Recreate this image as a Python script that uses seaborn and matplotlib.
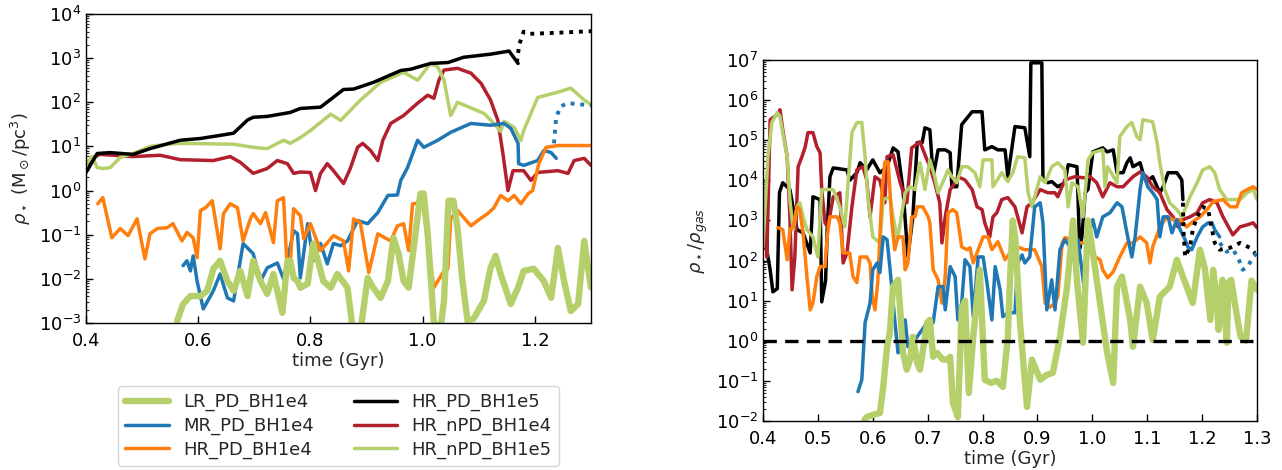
import numpy as np
import pandas as pd
import matplotlib
matplotlib.use("Agg")
import matplotlib.pyplot as plt
from matplotlib.ticker import LogLocator, NullFormatter
import seaborn as sns

# ---------------------------------------------------------------------------
# Data: (time [Gyr], log10 value) pairs for every run.
# Left panel: stellar density around the BH, log10(rho_* / Msun pc^-3)
# Right panel: log10(rho_* / rho_gas)
# ---------------------------------------------------------------------------
rho_lr_pd_1e4 = [(0.5625, -2.95), (0.573, -2.57), (0.586, -2.39), (0.604, -2.39), (0.616, -2.27),
                 (0.627, -1.77), (0.639, -1.59), (0.652, -2.05), (0.663, -2.27), (0.675, -1.82),
                 (0.688, -2.39), (0.698, -1.59), (0.711, -2.05), (0.723, -2.34), (0.734, -1.89),
                 (0.750, -2.77), (0.759, -1.59), (0.764, -1.59), (0.770, -1.98), (0.777, -2.05),
                 (0.782, -2.20), (0.795, -2.11), (0.805, -1.20), (0.823, -2.05), (0.836, -2.20),
                 (0.848, -1.89), (0.866, -2.20), (0.877, -3.30), (0.889, -3.20), (0.902, -1.98),
                 (0.912, -2.20), (0.925, -2.43), (0.938, -2.05), (0.948, -1.07), (0.957, -1.43),
                 (0.966, -2.05), (0.975, -2.20), (0.984, -1.30), (0.996, -0.07), (1.002, -0.07),
                 (1.009, -0.98), (1.020, -3.00), (1.032, -3.10), (1.038, -2.50), (1.046, -0.23),
                 (1.055, -0.23), (1.062, -0.84), (1.071, -2.05), (1.080, -2.95), (1.091, -2.90),
                 (1.109, -2.50), (1.121, -1.75), (1.130, -1.48), (1.139, -1.89), (1.157, -2.57),
                 (1.170, -2.20), (1.180, -1.82), (1.198, -1.77), (1.216, -2.05), (1.229, -2.43),
                 (1.241, -1.30), (1.252, -2.05), (1.264, -2.73), (1.277, -2.57), (1.288, -1.14),
                 (1.300, -2.20)]

rho_mr_pd_1e4 = [(0.573, -1.70), (0.580, -1.59), (0.586, -1.82), (0.591, -1.48), (0.598, -2.05),
                 (0.609, -2.68), (0.627, -2.27), (0.639, -1.89), (0.652, -2.43), (0.663, -2.50),
                 (0.680, -1.20), (0.698, -1.43), (0.711, -2.05), (0.723, -1.75), (0.741, -1.64),
                 (0.752, -2.00), (0.770, -0.91), (0.777, -0.98), (0.782, -1.98), (0.795, -0.75),
                 (0.805, -1.59), (0.818, -1.20), (0.830, -1.66), (0.841, -1.20), (0.854, -1.25),
                 (0.866, -1.14), (0.884, -0.68), (0.902, -0.75), (0.920, -0.50), (0.938, -0.11),
                 (0.955, -0.10), (0.961, 0.23), (0.973, 0.52), (0.991, 1.14), (1.002, 0.98),
                 (1.027, 1.14), (1.050, 1.32), (1.086, 1.52), (1.121, 1.48), (1.145, 1.52),
                 (1.157, 1.41), (1.170, 1.07), (1.171, 0.61), (1.180, 0.57), (1.205, 0.68),
                 (1.216, 0.91), (1.229, 0.86), (1.238, 0.73)]
rho_mr_pd_1e4_late = [(1.234, 1.07), (1.238, 1.66), (1.246, 1.91), (1.259, 1.98), (1.300, 1.93)]

rho_hr_pd_1e4 = [(0.421, -0.30), (0.430, -0.16), (0.446, -1.07), (0.461, -0.86), (0.475, -1.02),
                 (0.491, -0.64), (0.505, -1.55), (0.514, -0.98), (0.527, -0.86), (0.545, -0.84),
                 (0.555, -0.75), (0.571, -1.14), (0.580, -0.95), (0.591, -1.07), (0.598, -1.52),
                 (0.604, -0.45), (0.613, -0.39), (0.625, -0.23), (0.639, -1.32), (0.645, -0.52),
                 (0.657, -0.30), (0.670, -0.39), (0.680, -1.14), (0.693, -0.64), (0.698, -0.52),
                 (0.711, -0.75), (0.720, -0.50), (0.734, -1.18), (0.741, -0.23), (0.752, -0.16),
                 (0.759, -1.89), (0.764, -1.66), (0.770, -0.41), (0.782, -0.57), (0.788, -1.09),
                 (0.800, -0.75), (0.818, -1.36), (0.841, -1.02), (0.859, -1.14), (0.868, -1.82),
                 (0.877, -0.64), (0.889, -0.73), (0.904, -1.86), (0.920, -0.98), (0.943, -1.14),
                 (0.955, -0.80), (0.966, -0.75), (0.975, -1.36), (0.982, -0.30), (1.000, -0.27),
                 (1.009, -1.18), (1.020, -2.20), (1.038, -1.82), (1.045, -1.77), (1.050, -0.64),
                 (1.062, -0.45), (1.073, -0.61), (1.086, -0.80), (1.098, -0.68), (1.116, -0.52),
                 (1.127, -0.39), (1.139, -0.11), (1.152, -0.23), (1.163, -0.11), (1.175, -0.30),
                 (1.188, -0.07), (1.196, 0.00), (1.207, 0.61), (1.220, 0.98), (1.241, 1.02),
                 (1.300, 1.02)]

rho_hr_pd_1e5 = [(0.400, 0.41), (0.420, 0.84), (0.443, 0.86), (0.484, 0.82), (0.514, 0.95),
                 (0.568, 1.14), (0.604, 1.18), (0.639, 1.25), (0.663, 1.30), (0.688, 1.60),
                 (0.698, 1.66), (0.723, 1.68), (0.764, 1.77), (0.782, 1.86), (0.818, 1.89),
                 (0.859, 2.29), (0.877, 2.30), (0.912, 2.45), (0.961, 2.72), (0.979, 2.75),
                 (1.014, 2.88), (1.045, 2.90), (1.073, 3.02), (1.121, 3.09), (1.154, 3.16),
                 (1.170, 2.88)]
rho_hr_pd_1e5_late = [(1.168, 2.90), (1.172, 3.30), (1.180, 3.60), (1.190, 3.55), (1.230, 3.57),
                      (1.300, 3.61)]

rho_hr_npd_1e4 = [(0.405, 0.60), (0.413, 0.75), (0.425, 0.82), (0.484, 0.77), (0.532, 0.80),
                  (0.568, 0.70), (0.627, 0.68), (0.657, 0.77), (0.675, 0.64), (0.698, 0.39),
                  (0.723, 0.50), (0.741, 0.68), (0.759, 0.61), (0.770, 0.39), (0.782, 0.42),
                  (0.800, 0.41), (0.809, 0.00), (0.818, 0.39), (0.830, 0.61), (0.841, 0.45),
                  (0.859, 0.16), (0.871, 0.50), (0.884, 0.98), (0.893, 1.07), (0.907, 0.91),
                  (0.920, 0.68), (0.929, 1.14), (0.943, 1.52), (0.966, 1.70), (0.991, 1.98),
                  (1.009, 2.16), (1.020, 2.09), (1.029, 2.50), (1.038, 2.73), (1.062, 2.77),
                  (1.086, 2.66), (1.104, 2.43), (1.121, 2.05), (1.134, 1.59), (1.143, 0.84),
                  (1.152, 0.00), (1.161, 0.45), (1.180, 0.45), (1.193, 0.23), (1.205, 0.41),
                  (1.241, 0.45), (1.259, 0.39), (1.270, 0.68), (1.288, 0.73), (1.300, 0.57)]

rho_hr_npd_1e5 = [(0.400, 0.60), (0.411, 0.77), (0.420, 0.52), (0.430, 0.50), (0.443, 0.52),
                  (0.461, 0.75), (0.484, 0.84), (0.514, 1.00), (0.545, 1.05), (0.568, 1.07),
                  (0.663, 1.05), (0.698, 0.98), (0.723, 0.95), (0.752, 1.14), (0.764, 1.07),
                  (0.782, 1.20), (0.800, 1.36), (0.836, 1.73), (0.854, 1.59), (0.889, 2.05),
                  (0.925, 2.45), (0.966, 2.68), (0.991, 2.50), (1.014, 2.88), (1.027, 2.80),
                  (1.038, 2.50), (1.050, 1.70), (1.062, 2.00), (1.109, 1.75), (1.127, 1.52),
                  (1.139, 1.34), (1.145, 1.57), (1.163, 1.43), (1.175, 1.14), (1.180, 1.36),
                  (1.205, 2.11), (1.241, 2.23), (1.264, 2.32), (1.288, 2.05), (1.300, 1.95)]

ratio_lr_pd_1e4 = [(0.585, -1.97), (0.589, -1.90), (0.600, -1.85), (0.613, -1.80), (0.619, -1.15),
                   (0.626, -0.15), (0.631, 0.20), (0.637, 1.35), (0.646, 1.52), (0.650, 0.77),
                   (0.655, -0.30), (0.662, -0.72), (0.668, -0.47), (0.673, 0.10), (0.681, -0.55),
                   (0.686, -0.72), (0.699, 0.45), (0.704, 0.52), (0.710, -0.40), (0.717, -0.30),
                   (0.728, -0.47), (0.735, -0.47), (0.741, -0.40), (0.746, -1.55), (0.755, -1.90),
                   (0.762, 0.80), (0.768, 1.00), (0.775, -1.30), (0.783, 0.10), (0.795, 1.77),
                   (0.804, -0.97), (0.815, -1.05), (0.826, -1.00), (0.837, -1.15), (0.846, 0.10),
                   (0.850, 1.50), (0.855, 3.00), (0.860, 2.50), (0.868, 0.50), (0.881, -1.65),
                   (0.890, -0.47), (0.905, -0.97), (0.917, -0.85), (0.928, -0.80), (0.941, 0.10),
                   (0.954, 1.35), (0.965, 3.00), (0.972, 1.50), (0.983, -0.05), (0.992, 3.00),
                   (1.001, 2.19), (1.014, 0.94), (1.027, -0.30), (1.038, -1.05), (1.045, 1.35),
                   (1.054, 1.60), (1.069, 0.52), (1.074, -0.15), (1.087, 1.35), (1.099, 0.94),
                   (1.110, 0.02), (1.123, 1.10), (1.141, 1.35), (1.154, 2.02), (1.165, 1.60),
                   (1.183, 0.94), (1.196, 2.27), (1.205, 1.80), (1.215, 0.52), (1.220, 1.77),
                   (1.225, 1.27), (1.230, 0.27), (1.237, 1.52), (1.245, -0.05), (1.248, 1.45),
                   (1.253, 1.52), (1.260, 0.90), (1.270, 0.10), (1.280, 0.00), (1.290, 1.50),
                   (1.300, 1.27)]

ratio_mr_pd_1e4 = [(0.573, -1.27), (0.580, -0.97), (0.586, 0.45), (0.595, 0.94), (0.600, 1.77),
                   (0.608, 1.94), (0.613, 1.70), (0.619, 2.59), (0.626, 2.52), (0.631, 1.85),
                   (0.635, 1.27), (0.640, 0.52), (0.646, -0.30), (0.651, -0.15), (0.659, 0.52),
                   (0.664, -0.15), (0.673, -0.05), (0.686, 0.20), (0.699, 0.45), (0.710, 0.45),
                   (0.719, 1.35), (0.728, 1.35), (0.732, 0.77), (0.741, 1.85), (0.750, 1.60),
                   (0.755, 0.52), (0.762, 0.94), (0.768, 2.02), (0.777, 1.85), (0.783, 0.60),
                   (0.792, 2.09), (0.801, 2.09), (0.808, 1.45), (0.817, 0.52), (0.823, 1.85),
                   (0.832, 1.27), (0.837, 0.60), (0.846, 0.70), (0.859, 0.70), (0.864, 1.94),
                   (0.872, 2.14), (0.877, 1.94), (0.886, 2.09), (0.895, 3.34), (0.905, 3.44),
                   (0.910, 2.94), (0.917, 0.77), (0.926, 1.52), (0.932, 0.77), (0.941, 2.27),
                   (0.950, 2.52), (0.963, 2.27), (0.974, 2.52), (0.987, 1.10), (0.992, 2.59),
                   (1.001, 3.02), (1.008, 2.59), (1.019, 3.09), (1.032, 3.19), (1.045, 3.44),
                   (1.054, 3.34), (1.063, 2.69), (1.072, 2.09), (1.078, 2.59), (1.087, 3.77),
                   (1.092, 4.19), (1.101, 3.84), (1.110, 3.69), (1.118, 3.52), (1.123, 2.59),
                   (1.129, 3.09), (1.138, 3.09), (1.145, 2.69), (1.154, 3.02), (1.160, 2.77),
                   (1.169, 2.52), (1.174, 2.34), (1.181, 2.27), (1.191, 2.59), (1.201, 2.84),
                   (1.211, 2.94), (1.218, 2.94), (1.223, 2.77), (1.232, 2.59)]
ratio_mr_pd_1e4_late = [(1.232, 2.44), (1.245, 2.22), (1.256, 2.27), (1.265, 2.09), (1.274, 1.77),
                        (1.283, 1.85), (1.293, 2.09), (1.300, 2.19)]

ratio_hr_pd_1e4 = [(0.427, 2.82), (0.436, 2.77), (0.444, 2.02), (0.449, 2.77), (0.455, 2.84),
                   (0.462, 3.34), (0.467, 3.27), (0.473, 2.69), (0.480, 1.60), (0.486, 0.77),
                   (0.491, 0.94), (0.498, 1.60), (0.504, 1.85), (0.513, 1.85), (0.517, 2.59),
                   (0.522, 3.09), (0.535, 3.09), (0.540, 2.94), (0.546, 2.19), (0.558, 2.19),
                   (0.564, 1.60), (0.571, 1.45), (0.577, 2.09), (0.589, 2.09), (0.595, 1.94),
                   (0.599, 1.10), (0.604, 0.77), (0.609, 1.45), (0.617, 3.77), (0.622, 4.46),
                   (0.628, 4.46), (0.635, 2.94), (0.640, 2.27), (0.646, 2.59), (0.655, 2.59),
                   (0.659, 1.77), (0.664, 1.94), (0.671, 3.09), (0.677, 3.09), (0.681, 3.34),
                   (0.691, 3.34), (0.701, 3.09), (0.704, 2.94), (0.710, 1.77), (0.719, 1.52),
                   (0.726, 0.94), (0.732, 1.60), (0.737, 3.19), (0.746, 3.27), (0.753, 3.19),
                   (0.762, 2.34), (0.772, 2.27), (0.777, 2.32), (0.783, 1.94), (0.792, 2.27),
                   (0.801, 2.59), (0.810, 2.59), (0.817, 2.27), (0.828, 2.47), (0.841, 2.02),
                   (0.854, 2.27), (0.864, 2.34), (0.877, 2.27), (0.895, 2.27), (0.908, 1.85),
                   (0.914, 0.94), (0.923, 0.84), (0.932, 0.94), (0.937, 1.10), (0.945, 2.44),
                   (0.950, 2.57), (0.965, 2.52), (0.972, 1.60), (0.974, 2.44), (0.987, 2.44),
                   (0.996, 2.44), (1.005, 2.09), (1.014, 2.02), (1.019, 1.77), (1.028, 1.57),
                   (1.038, 1.72), (1.050, 2.09), (1.063, 2.44), (1.074, 2.44), (1.087, 2.59),
                   (1.099, 2.44), (1.105, 1.94), (1.110, 2.34), (1.123, 2.84), (1.136, 3.09),
                   (1.147, 3.02), (1.160, 3.02), (1.172, 2.84), (1.183, 2.97), (1.196, 3.09),
                   (1.209, 3.27), (1.220, 3.47), (1.238, 3.52), (1.251, 3.34), (1.263, 3.34),
                   (1.272, 3.69), (1.282, 3.77), (1.293, 3.84), (1.300, 3.77)]

ratio_hr_pd_1e5 = [(0.404, 2.50), (0.413, 1.77), (0.418, 1.22), (0.426, 1.30), (0.430, 3.70),
                   (0.436, 3.94), (0.449, 3.77), (0.462, 2.77), (0.473, 2.69), (0.486, 2.19),
                   (0.491, 3.59), (0.504, 3.52), (0.507, 0.97), (0.514, 1.50), (0.517, 2.77),
                   (0.522, 4.09), (0.528, 4.31), (0.553, 4.26), (0.558, 4.00), (0.571, 4.19),
                   (0.577, 4.44), (0.589, 4.26), (0.600, 4.51), (0.613, 4.19), (0.626, 4.34),
                   (0.637, 4.81), (0.646, 4.71), (0.655, 3.77), (0.664, 2.10), (0.673, 3.09),
                   (0.681, 4.94), (0.690, 4.94), (0.695, 5.31), (0.704, 5.26), (0.710, 4.09),
                   (0.719, 4.76), (0.732, 4.76), (0.741, 4.69), (0.744, 3.84), (0.753, 3.84),
                   (0.762, 5.39), (0.781, 5.71), (0.799, 5.71), (0.804, 4.76), (0.817, 4.84),
                   (0.828, 4.76), (0.841, 4.76), (0.846, 4.09), (0.859, 5.34), (0.877, 5.31),
                   (0.886, 4.59), (0.888, 6.93), (0.908, 6.93), (0.910, 4.01), (0.919, 3.94),
                   (0.926, 3.97), (0.937, 3.84), (0.950, 3.94), (0.956, 4.39), (0.972, 4.34),
                   (0.977, 2.30), (0.981, 2.59), (0.987, 3.69), (0.992, 3.77), (1.001, 4.71),
                   (1.019, 4.81), (1.027, 4.71), (1.038, 4.76), (1.045, 4.19), (1.056, 4.19),
                   (1.063, 4.44), (1.069, 4.56), (1.074, 4.34), (1.087, 4.44), (1.092, 4.19),
                   (1.099, 3.97), (1.110, 4.09), (1.118, 3.84), (1.123, 3.69), (1.129, 3.84),
                   (1.138, 4.19), (1.154, 4.19), (1.163, 4.01), (1.165, 3.52)]
ratio_hr_pd_1e5_late = [(1.165, 3.44), (1.166, 2.77), (1.169, 2.09), (1.178, 2.34), (1.183, 2.77),
                        (1.191, 3.09), (1.201, 3.34), (1.211, 3.27), (1.218, 2.77), (1.223, 2.44),
                        (1.232, 2.27), (1.251, 2.32), (1.269, 2.44), (1.287, 2.32), (1.296, 2.19)]

ratio_hr_npd_1e4 = [(0.401, 2.30), (0.404, 3.52), (0.407, 2.09), (0.413, 5.51), (0.426, 5.64),
                    (0.431, 5.76), (0.436, 5.26), (0.444, 4.59), (0.449, 3.09), (0.453, 1.27),
                    (0.458, 2.09), (0.464, 4.34), (0.471, 4.59), (0.477, 4.84), (0.482, 5.19),
                    (0.491, 5.19), (0.498, 4.84), (0.504, 4.69), (0.507, 3.77), (0.513, 2.94),
                    (0.518, 2.84), (0.528, 3.59), (0.540, 3.69), (0.546, 1.94), (0.553, 2.19),
                    (0.562, 3.34), (0.571, 4.26), (0.582, 4.34), (0.589, 4.01), (0.595, 3.09),
                    (0.604, 4.09), (0.613, 4.00), (0.622, 3.44), (0.626, 4.59), (0.637, 4.64),
                    (0.650, 3.94), (0.662, 3.44), (0.671, 4.81), (0.686, 4.96), (0.695, 4.64),
                    (0.704, 4.34), (0.713, 3.94), (0.722, 3.44), (0.726, 2.44), (0.732, 3.09),
                    (0.741, 3.77), (0.750, 3.94), (0.755, 4.09), (0.768, 4.01), (0.781, 3.77),
                    (0.790, 3.34), (0.799, 3.27), (0.804, 2.94), (0.813, 2.59), (0.819, 3.09),
                    (0.826, 3.19), (0.835, 3.52), (0.846, 3.57), (0.859, 3.34), (0.872, 2.69),
                    (0.881, 3.34), (0.890, 3.44), (0.905, 3.77), (0.919, 3.69), (0.932, 3.69),
                    (0.937, 3.59), (0.950, 4.01), (0.968, 4.09), (0.987, 4.06), (0.996, 4.09),
                    (1.008, 3.94), (1.019, 3.59), (1.032, 3.94), (1.045, 3.84), (1.056, 3.84),
                    (1.074, 4.09), (1.087, 4.21), (1.099, 4.09), (1.110, 3.84), (1.123, 3.69),
                    (1.136, 3.27), (1.147, 3.09), (1.156, 2.84), (1.165, 3.02), (1.178, 3.09),
                    (1.191, 3.19), (1.201, 3.44), (1.214, 3.52), (1.227, 3.44), (1.238, 3.09),
                    (1.256, 2.64), (1.269, 2.84), (1.282, 2.89), (1.293, 2.94), (1.300, 2.82)]

ratio_hr_npd_1e5 = [(0.400, 2.34), (0.409, 4.59), (0.416, 5.44), (0.426, 5.69), (0.431, 5.59),
                    (0.436, 5.19), (0.444, 4.59), (0.449, 3.52), (0.455, 2.77), (0.462, 3.34),
                    (0.467, 3.44), (0.473, 3.09), (0.480, 2.77), (0.491, 2.59), (0.500, 2.09),
                    (0.507, 3.77), (0.518, 3.77), (0.528, 3.77), (0.540, 3.34), (0.549, 2.84),
                    (0.562, 5.19), (0.571, 5.44), (0.580, 5.44), (0.586, 4.59), (0.591, 3.59),
                    (0.600, 2.59), (0.613, 2.44), (0.619, 3.52), (0.631, 3.59), (0.637, 3.09),
                    (0.645, 2.52), (0.659, 3.69), (0.668, 3.84), (0.677, 3.77), (0.686, 4.44),
                    (0.695, 3.77), (0.704, 4.51), (0.713, 4.09), (0.719, 3.69), (0.732, 4.09),
                    (0.737, 4.26), (0.744, 4.09), (0.753, 3.94), (0.762, 4.34), (0.773, 4.34),
                    (0.786, 4.19), (0.795, 3.84), (0.801, 4.51), (0.817, 4.51), (0.819, 3.84),
                    (0.835, 4.19), (0.846, 3.97), (0.855, 4.19), (0.864, 4.59), (0.877, 4.56),
                    (0.883, 3.69), (0.890, 3.34), (0.905, 4.09), (0.914, 3.94), (0.926, 4.34),
                    (0.937, 4.44), (0.950, 4.26), (0.956, 3.34), (0.963, 3.94), (0.974, 3.84),
                    (0.983, 3.09), (0.992, 4.51), (1.001, 4.69), (1.019, 4.76), (1.023, 3.84),
                    (1.028, 4.34), (1.045, 3.94), (1.050, 5.09), (1.063, 5.34), (1.072, 5.44),
                    (1.081, 5.09), (1.087, 5.01), (1.092, 5.51), (1.110, 5.46), (1.118, 4.94),
                    (1.123, 4.44), (1.132, 3.77), (1.141, 3.44), (1.154, 3.27), (1.163, 3.09),
                    (1.178, 3.59), (1.191, 3.94), (1.201, 4.26), (1.214, 4.34), (1.223, 4.19),
                    (1.232, 3.77), (1.245, 3.52), (1.256, 3.52), (1.269, 3.52), (1.282, 3.69),
                    (1.293, 3.77), (1.300, 3.52)]

run_labels = ["LR_PD_BH1e4", "MR_PD_BH1e4", "HR_PD_BH1e4",
              "HR_PD_BH1e5", "HR_nPD_BH1e4", "HR_nPD_BH1e5"]
run_colors = ["#b5cf6b", "#1f77b4", "#ff7f0e", "black", "#b2202e", "#b5cf6b"]
run_widths = [4.6, 2.5, 2.5, 2.5, 2.5, 2.5]


def to_frame(pairs):
    arr = np.array(pairs, dtype=float)
    return pd.DataFrame({"time": arr[:, 0], "value": 10.0 ** arr[:, 1]})


sns.set_style("ticks")
plt.rcParams["font.family"] = ["DejaVu Sans"]
plt.rcParams["mathtext.fontset"] = "dejavusans"

fig = plt.figure(figsize=(12.82, 4.70), dpi=100)
ax1 = fig.add_axes([86 / 1282, 1 - 323 / 470, 505 / 1282, 309 / 470])
ax2 = fig.add_axes([763 / 1282, 1 - 421 / 470, 494 / 1282, 361 / 470])

left_series = [rho_lr_pd_1e4, rho_mr_pd_1e4, rho_hr_pd_1e4,
               rho_hr_pd_1e5, rho_hr_npd_1e4, rho_hr_npd_1e5]
right_series = [ratio_lr_pd_1e4, ratio_mr_pd_1e4, ratio_hr_pd_1e4,
                ratio_hr_pd_1e5, ratio_hr_npd_1e4, ratio_hr_npd_1e5]
draw_order = [4, 5, 3, 1, 2, 0]
right_order = [3, 4, 5, 2, 1, 0]

handles = {}
for i in draw_order:
    sns.lineplot(data=to_frame(left_series[i]), x="time", y="value", ax=ax1,
                 estimator=None, sort=False, color=run_colors[i],
                 linewidth=run_widths[i], label=run_labels[i], legend=False)
    handles[i] = ax1.get_lines()[-1]

for i in right_order:
    sns.lineplot(data=to_frame(right_series[i]), x="time", y="value", ax=ax2,
                 estimator=None, sort=False, color=run_colors[i],
                 linewidth=run_widths[i], legend=False)

# continuation of the runs after the restart, drawn dotted
dotted = (0, (1, 1.5))
for ax, pairs, col in [(ax1, rho_hr_pd_1e5_late, "black"),
                       (ax1, rho_mr_pd_1e4_late, "#1f77b4"),
                       (ax2, ratio_hr_pd_1e5_late, "black"),
                       (ax2, ratio_mr_pd_1e4_late, "#1f77b4")]:
    sns.lineplot(data=to_frame(pairs), x="time", y="value", ax=ax,
                 estimator=None, sort=False, color=col, linewidth=2.8,
                 linestyle=dotted, legend=False)

ax2.axhline(1.0, color="black", linewidth=2.4, linestyle=(0, (4, 2.5)))

for ax in (ax1, ax2):
    ax.set_yscale("log")
    ax.set_xlim(0.4, 1.3)
    ax.yaxis.set_major_locator(LogLocator(base=10, numticks=15))
    ax.yaxis.set_minor_locator(LogLocator(base=10, subs=np.arange(2, 10), numticks=15))
    ax.yaxis.set_minor_formatter(NullFormatter())
    ax.tick_params(axis="both", which="major", direction="in", length=5, width=1,
                   labelsize=13, top=False, right=False, colors="black")
    ax.tick_params(axis="x", which="major", pad=6.5)
    ax.tick_params(axis="y", which="minor", direction="in", length=2.5, width=0.8,
                   right=False)
    for s in ax.spines.values():
        s.set_color("black")
        s.set_linewidth(1.0)
    ax.set_xlabel("time (Gyr)", fontsize=13, labelpad=1.5)

ax1.set_ylim(1e-3, 1e4)
ax1.set_xticks([0.4, 0.6, 0.8, 1.0, 1.2])
ax1.set_ylabel(r"$\rho_\star$ (M$_\odot$/pc$^3$)", fontsize=13)

ax2.set_ylim(1e-2, 1e7)
ax2.set_xticks(np.round(np.arange(0.4, 1.31, 0.1), 1))
ax2.set_ylabel(r"$\rho_\star/\rho_{gas}$", fontsize=13)

leg_handles = [handles[i] for i in range(6)]
fig.legend(leg_handles, run_labels, loc="upper center", ncol=2,
           bbox_to_anchor=(0.264, 0.198), fontsize=13, handlelength=2.4,
           columnspacing=2.2, frameon=True, borderpad=0.4, labelspacing=0.3)

fig.savefig("out.png", dpi=100)
